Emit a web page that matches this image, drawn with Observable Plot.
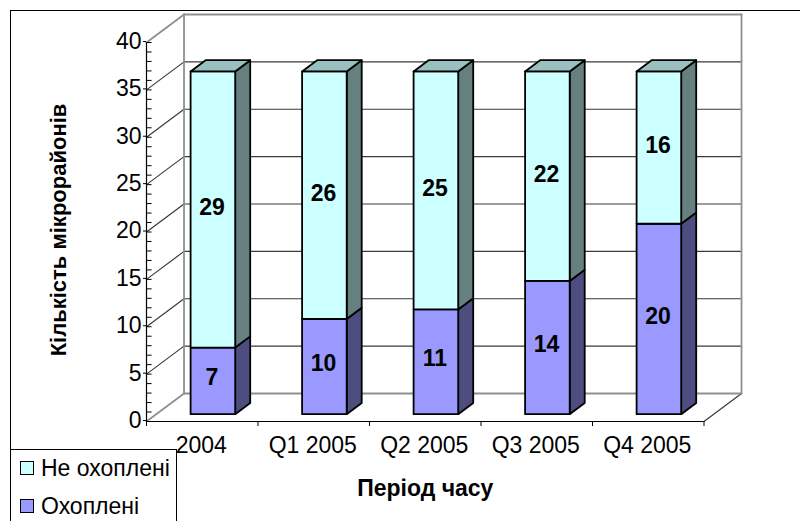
<!DOCTYPE html>
<html>
<head>
<meta charset="utf-8">
<script src="https://cdn.jsdelivr.net/npm/d3@7"></script>
<script src="https://cdn.jsdelivr.net/npm/@observablehq/plot@0.6"></script>
<style>
  html, body { margin: 0; padding: 0; background: #fff; }
  #chart { position: relative; width: 800px; height: 521px; overflow: hidden; font-family: "Liberation Sans", Arial, sans-serif; }
  #chart svg { display: block; position: absolute; left: 0; top: 0; }
  #border { position: absolute; left: 10px; top: 10px; width: 800px; height: 520px; border-left: 1px solid #000; border-top: 1px solid #000; box-sizing: border-box; }
  #legend { position: absolute; left: 10px; top: 449px; width: 167px; height: 80px; border: 1px solid #000; box-sizing: border-box; background: #fff; font-size: 23px; color: #000; }
  .item { position: absolute; left: 9px; height: 24px; display: flex; align-items: center; white-space: nowrap; }
  .swatch { width: 12px; height: 12px; border: 1px solid #000; margin-right: 7px; flex: none; }
</style>
</head>
<body>
<div id="chart"></div>
<script>
const categories = ["2004", "Q1 2005", "Q2 2005", "Q3 2005", "Q4 2005"];
const covered = [7, 10, 11, 14, 20];
const notCovered = [29, 26, 25, 22, 16];
const seriesNames = ["Не охоплені", "Охоплені"];
const yTitle = "Кількість мікрорайонів";
const xTitle = "Період часу";
const majorTicks = [0, 5, 10, 15, 20, 25, 30, 35, 40];
const minorTicks = d3.range(0, 41);

// Oblique 3D projection, expressed in data units of the x and y scales
const depthX = 0.3365, depthY = 2.955;
const proj = (x, y, d) => ({x: x + d * depthX, y: y + d * depthY});
const barFront = 0.26, barBack = 0.66, halfBar = 0.2, barShift = 0.008, barStretch = 1.005;

const palette = {
  cyan: {front: "#ccffff", side: "#668080", top: "#99bfbf"},
  purple: {front: "#9999ff", side: "#4d4d80", top: "#7373bf"}
};

const faces = [];
function addFace(id, fill, corners) {
  corners.forEach(([x, y, d]) => faces.push({id, fill, ...proj(x, y * barStretch, d)}));
}
categories.forEach((c, i) => {
  const cx = i + barShift, x1 = cx - halfBar, x2 = cx + halfBar;
  const a = covered[i], b = covered[i] + notCovered[i];
  const segs = [[0, a, palette.purple], [a, b, palette.cyan]];
  segs.forEach(([y0, y1, pal], k) => {
    const id = `${i}-${k}`;
    addFace(id + "s", pal.side, [[x2, y0, barFront], [x2, y0, barBack], [x2, y1, barBack], [x2, y1, barFront]]);
    addFace(id + "f", pal.front, [[x1, y0, barFront], [x2, y0, barFront], [x2, y1, barFront], [x1, y1, barFront]]);
  });
  addFace(i + "t", palette.cyan.top, [[x1, b, barFront], [x2, b, barFront], [x2, b, barBack], [x1, b, barBack]]);
});

const xMin = -0.5, xMax = 4.5;
const segments = (items) => items.flatMap(([id, p, q]) => [{id, ...p}, {id, ...q}]);
const thinGrid = segments(majorTicks.filter(v => v > 0 && v < 40).flatMap(v => [
  ["b" + v, proj(xMin, v, 1), proj(xMax, v, 1)],
  ["d" + v, proj(xMin, v, 0), proj(xMin, v, 1)]
]).concat([["fr", proj(xMax, 0, 0), proj(xMax, 0, 1)]]));
const wall = segments([
  ["w1", proj(xMin, 40, 0), proj(xMin, 40, 1)],
  ["w2", proj(xMin, 0, 0), proj(xMin, 0, 1)],
  ["w3", proj(xMin, 0, 1), proj(xMin, 40, 1)],
  ["w4", proj(xMin, 40, 1), proj(xMax, 40, 1)],
  ["w5", proj(xMax, 40, 1), proj(xMax, 0, 1)],
  ["w6", proj(xMin, 0, 1), proj(xMax, 0, 1)]
]);

const labels = categories.flatMap((c, i) => {
  const a = covered[i], b = a + notCovered[i];
  return [
    {i, v: covered[i], ...proj(i, a / 2, barFront)},
    {i, v: notCovered[i], ...proj(i, (a + b) / 2, barFront)}
  ];
});

const plot = Plot.plot({
  width: 800,
  height: 521,
  marginLeft: 146,
  marginRight: 96.5,
  marginTop: 42,
  marginBottom: 100,
  style: {fontFamily: '"Liberation Sans", Arial, sans-serif', background: "transparent", color: "#000"},
  x: {type: "linear", domain: [xMin, xMax]},
  y: {type: "linear", domain: [0, 40]},
  color: {type: "identity"},
  marks: [
    Plot.line(thinGrid, {x: "x", y: "y", z: "id", stroke: "#3a3a3a", strokeWidth: 1.2}),
    Plot.line(wall, {x: "x", y: "y", z: "id", stroke: "#8f8f8f", strokeWidth: 1.8}),
    Plot.ruleX([xMin], {y1: 0, y2: 40, stroke: "#000", strokeWidth: 1.2}),
    Plot.ruleY([0], {x1: xMin, x2: xMax, stroke: "#000", strokeWidth: 1.2}),
    Plot.ruleY(minorTicks, {x1: xMin, x2: xMin + 0.05, stroke: "#000", strokeWidth: 1}),
    Plot.axisY({ticks: majorTicks, tickSize: 3, tickPadding: 2, fontSize: 23, label: null, stroke: "#000", fill: "#000", dy: -1}),
    Plot.axisX({ticks: [-0.5, 0.5, 1.5, 2.5, 3.5, 4.5], tickSize: 5, text: null, label: null, stroke: "#000"}),
    Plot.axisX({ticks: [0, 1, 2, 3, 4], tickSize: 0, tickPadding: 15, fontSize: 23, label: null, tickFormat: i => categories[i], fill: "#000", dx: -1}),
    Plot.line(faces, {x: "x", y: "y", z: "id", fill: "fill", stroke: "#000", strokeWidth: 1.8, strokeLinejoin: "round", curve: "linear-closed"}),
    Plot.text(labels, {x: "x", y: "y", text: d => String(d.v), fontSize: 23, fontWeight: "bold", fill: "#000", dy: -3}),
    Plot.text([yTitle], {frameAnchor: "left", textAnchor: "middle", dx: -88, dy: -2, rotate: -90, fontSize: 22, fontWeight: "bold", fill: "#000"}),
    Plot.text([xTitle], {frameAnchor: "bottom", dy: 74, fontSize: 23, fontWeight: "bold", fill: "#000"})
  ]
});

const root = document.getElementById("chart");
root.appendChild(plot);
const border = document.createElement("div");
border.id = "border";
root.appendChild(border);
const legend = document.createElement("div");
legend.id = "legend";
const swatchColors = [palette.cyan.front, palette.purple.front];
seriesNames.forEach((name, k) => {
  const item = document.createElement("div");
  item.className = "item";
  item.style.top = (k === 0 ? 6 : 44) + "px";
  const sw = document.createElement("span");
  sw.className = "swatch";
  sw.style.background = swatchColors[k];
  const t = document.createElement("span");
  t.textContent = name;
  item.append(sw, t);
  legend.appendChild(item);
});
root.appendChild(legend);
</script>
</body>
</html>
